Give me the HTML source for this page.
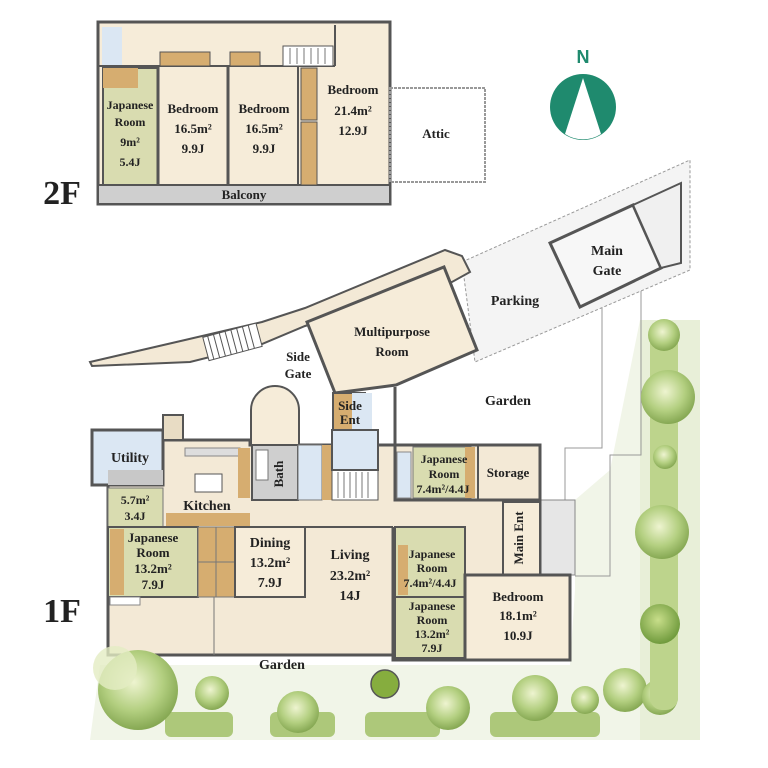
<!DOCTYPE html>
<html><head><meta charset="utf-8"><style>
html,body{margin:0;padding:0;background:#fff;}
svg{display:block;}
text{font-family:"Liberation Serif",serif;font-weight:bold;fill:#222;text-anchor:middle;}
</style></head><body>
<svg width="768" height="768" viewBox="0 0 768 768" xmlns="http://www.w3.org/2000/svg">
<defs>
<radialGradient id="tr" cx="45%" cy="40%" r="60%"><stop offset="0" stop-color="#eef4d0"/><stop offset="0.6" stop-color="#b3cf80"/><stop offset="1" stop-color="#86a853"/></radialGradient>
<radialGradient id="tr2" cx="45%" cy="40%" r="60%"><stop offset="0" stop-color="#c8de8a"/><stop offset="1" stop-color="#6f9a3c"/></radialGradient>
</defs>
<!-- ground bands -->
<polygon points="575,500 610,470 640,320 700,320 700,740 90,740 100,665 570,665 575,590" fill="#f1f5e8"/>
<rect x="640" y="320" width="60" height="420" fill="#e8efd8"/>
<!-- driveway lines -->
<polyline points="602,300 602,448 565,448 565,500" fill="none" stroke="#999" stroke-width="1"/>
<polyline points="641,282 641,455 610,455 610,576 575,576" fill="none" stroke="#999" stroke-width="1"/>
<rect x="540" y="500" width="35" height="75" fill="#e6e6e6" stroke="#888"/>
<!-- parking band -->
<polygon points="462,262 690,160 690,270 475,362" fill="#f4f4f4" stroke="#999" stroke-dasharray="3,2"/>
<polygon points="550,243 633,205 661,268 580,307" fill="#f7f7f7" stroke="#555" stroke-width="3"/>
<polygon points="633,205 681,183 681,263 661,268" fill="#f0f0f0" stroke="#555" stroke-width="2"/>
<text x="607" y="255" font-size="14">Main</text>
<text x="607" y="275" font-size="14">Gate</text>
<text x="515" y="305" font-size="14">Parking</text>
<!-- walkway -->
<polygon points="90,362 185,340 262,322 305,308 445,250 462,256 470,272 452,282 305,326 262,344 190,362 92,366" fill="#f3e9d6" stroke="#555" stroke-width="2"/>
<rect x="205" y="330" width="55" height="24" fill="#fff" stroke="#555" transform="rotate(-15 232 342)"/>
<g stroke="#555" stroke-width="1" transform="rotate(-15 232 342)">
<line x1="210" y1="330" x2="210" y2="354"/><line x1="216" y1="330" x2="216" y2="354"/><line x1="222" y1="330" x2="222" y2="354"/><line x1="228" y1="330" x2="228" y2="354"/><line x1="234" y1="330" x2="234" y2="354"/><line x1="240" y1="330" x2="240" y2="354"/><line x1="246" y1="330" x2="246" y2="354"/><line x1="252" y1="330" x2="252" y2="354"/></g>
<!-- multipurpose -->
<polygon points="307,322 444,267 477,350 396,385 335,393" fill="#f6ecd9" stroke="#555" stroke-width="3"/>
<text x="392" y="336" font-size="13">Multipurpose</text>
<text x="392" y="356" font-size="13">Room</text>
<text x="298" y="361" font-size="13">Side</text>
<text x="298" y="378" font-size="13">Gate</text>
<text x="508" y="405" font-size="14">Garden</text>
<!-- 1F main -->
<polygon points="108,485 163,485 163,440 250,440 250,445 395,445 395,500 540,500 540,575 570,575 570,660 393,660 393,655 108,655" fill="#f3e9d6" stroke="#555" stroke-width="3"/>
<rect x="92" y="430" width="71" height="55" fill="#dbe7f3" stroke="#555" stroke-width="3"/>
<rect x="108" y="470" width="55" height="15" fill="#c8c8c8"/>
<text x="130" y="462" font-size="14">Utility</text>
<rect x="163" y="415" width="20" height="25" fill="#e8dcc4" stroke="#555" stroke-width="2"/>
<rect x="108" y="488" width="55" height="39" fill="#d9dcb0" stroke="#777"/>
<text x="135" y="504" font-size="12">5.7m²</text>
<text x="135" y="520" font-size="12">3.4J</text>
<rect x="185" y="448" width="55" height="8" fill="#ddd" stroke="#888"/>
<rect x="195" y="474" width="27" height="18" fill="#fff" stroke="#555"/>
<rect x="238" y="448" width="12" height="50" fill="#d6ad70"/>
<rect x="166" y="513" width="84" height="13" fill="#d6ad70"/>
<text x="207" y="510" font-size="14">Kitchen</text>
<path d="M251,445 L251,410 A24,24 0 0 1 299,410 L299,445 Z" fill="#f6ecd9" stroke="#555" stroke-width="2"/>
<rect x="252" y="445" width="46" height="55" fill="#cfcfcf" stroke="#555" stroke-width="2"/>
<rect x="256" y="450" width="12" height="30" fill="#fff" stroke="#777"/>
<text x="283" y="474" font-size="13" transform="rotate(-90 283 474)">Bath</text>
<rect x="298" y="445" width="24" height="55" fill="#dbe7f3" stroke="#777"/>
<rect x="322" y="445" width="10" height="55" fill="#d6ad70"/>
<rect x="332" y="470" width="46" height="30" fill="#fff" stroke="#555"/>
<g stroke="#777"><line x1="338" y1="472" x2="338" y2="498"/><line x1="344" y1="472" x2="344" y2="498"/><line x1="350" y1="472" x2="350" y2="498"/><line x1="356" y1="472" x2="356" y2="498"/><line x1="362" y1="472" x2="362" y2="498"/><line x1="368" y1="472" x2="368" y2="498"/></g>
<rect x="333" y="393" width="32" height="37" fill="#d6ad70" stroke="#555" stroke-width="2"/>
<rect x="352" y="393" width="20" height="37" fill="#dbe7f3"/>
<rect x="332" y="430" width="46" height="40" fill="#dbe7f3" stroke="#555" stroke-width="2"/>
<text x="350" y="410" font-size="13">Side</text>
<text x="350" y="424" font-size="13">Ent</text>
<line x1="395" y1="387" x2="395" y2="445" stroke="#555" stroke-width="3"/>
<!-- right rooms -->
<rect x="395" y="445" width="145" height="55" fill="#f3e9d6" stroke="#555" stroke-width="3"/>
<rect x="397" y="452" width="14" height="46" fill="#dbe7f3" stroke="#888"/>
<rect x="413" y="447" width="58" height="51" fill="#d9dcb0" stroke="#777"/>
<rect x="465" y="447" width="10" height="51" fill="#d6ad70"/>
<line x1="478" y1="445" x2="478" y2="500" stroke="#555" stroke-width="2"/>
<text x="444" y="463" font-size="12">Japanese</text>
<text x="444" y="478" font-size="12">Room</text>
<text x="443" y="493" font-size="12">7.4m²/4.4J</text>
<text x="508" y="477" font-size="13">Storage</text>
<rect x="503" y="502" width="37" height="73" fill="#f6ecd9" stroke="#555" stroke-width="2"/>
<text x="523" y="538" font-size="13" transform="rotate(-90 523 538)">Main Ent</text>
<rect x="395" y="527" width="70" height="70" fill="#d9dcb0" stroke="#555" stroke-width="2"/>
<rect x="398" y="545" width="10" height="50" fill="#d6ad70"/>
<text x="432" y="558" font-size="12">Japanese</text>
<text x="432" y="572" font-size="12">Room</text>
<text x="430" y="587" font-size="12">7.4m²/4.4J</text>
<rect x="395" y="597" width="70" height="61" fill="#d9dcb0" stroke="#555" stroke-width="2"/>
<text x="432" y="610" font-size="12">Japanese</text>
<text x="432" y="624" font-size="12">Room</text>
<text x="432" y="638" font-size="12">13.2m²</text>
<text x="432" y="652" font-size="12">7.9J</text>
<rect x="465" y="575" width="105" height="85" fill="#f6ecd9" stroke="#555" stroke-width="3"/>
<text x="518" y="601" font-size="13">Bedroom</text>
<text x="518" y="620" font-size="13">18.1m²</text>
<text x="518" y="640" font-size="13">10.9J</text>
<!-- left rooms -->
<rect x="108" y="527" width="90" height="70" fill="#d9dcb0" stroke="#555" stroke-width="2"/>
<rect x="110" y="529" width="14" height="66" fill="#d6ad70"/>
<rect x="110" y="597" width="30" height="8" fill="#fff" stroke="#888"/>
<rect x="198" y="527" width="37" height="70" fill="#d6ad70" stroke="#777"/>
<line x1="216" y1="527" x2="216" y2="597" stroke="#777"/>
<line x1="198" y1="562" x2="235" y2="562" stroke="#777"/>
<text x="153" y="542" font-size="13">Japanese</text>
<text x="153" y="557" font-size="13">Room</text>
<text x="153" y="573" font-size="13">13.2m²</text>
<text x="153" y="589" font-size="13">7.9J</text>
<rect x="235" y="527" width="70" height="70" fill="#f6ecd9" stroke="#555" stroke-width="2"/>
<text x="270" y="547" font-size="14">Dining</text>
<text x="270" y="567" font-size="14">13.2m²</text>
<text x="270" y="587" font-size="14">7.9J</text>
<line x1="305" y1="527" x2="393" y2="527" stroke="#555" stroke-width="2"/>
<line x1="393" y1="527" x2="393" y2="660" stroke="#555" stroke-width="3"/>
<line x1="214" y1="597" x2="214" y2="655" stroke="#777"/>
<text x="350" y="559" font-size="14">Living</text>
<text x="350" y="580" font-size="14">23.2m²</text>
<text x="350" y="600" font-size="14">14J</text>
<!-- labels -->
<text x="282" y="669" font-size="14">Garden</text>
<text x="62" y="622" font-size="34">1F</text>
<!-- trees bottom -->
<rect x="165" y="712" width="68" height="25" rx="6" fill="#adc87a"/>
<rect x="270" y="712" width="65" height="25" rx="6" fill="#adc87a"/>
<rect x="365" y="712" width="75" height="25" rx="6" fill="#adc87a"/>
<rect x="490" y="712" width="110" height="25" rx="6" fill="#adc87a"/>
<circle cx="138" cy="690" r="40" fill="url(#tr)"/>
<circle cx="115" cy="668" r="22" fill="#e3ecc3" opacity="0.8"/>
<circle cx="212" cy="693" r="17" fill="url(#tr)"/>
<circle cx="298" cy="712" r="21" fill="url(#tr)"/>
<circle cx="385" cy="684" r="14" fill="#86ad3e" stroke="#555" stroke-width="1.5"/>
<circle cx="448" cy="708" r="22" fill="url(#tr)"/>
<circle cx="535" cy="698" r="23" fill="url(#tr)"/>
<circle cx="585" cy="700" r="14" fill="url(#tr)"/>
<circle cx="625" cy="690" r="22" fill="url(#tr)"/>
<circle cx="660" cy="697" r="18" fill="url(#tr)"/>
<!-- trees right -->
<rect x="650" y="320" width="28" height="390" rx="12" fill="#bdd48c"/>
<circle cx="664" cy="335" r="16" fill="url(#tr)"/>
<circle cx="668" cy="397" r="27" fill="url(#tr)"/>
<circle cx="665" cy="457" r="12" fill="url(#tr)"/>
<circle cx="662" cy="532" r="27" fill="url(#tr)"/>
<circle cx="660" cy="624" r="20" fill="url(#tr2)"/>
<!-- 2F -->
<rect x="98" y="22" width="292" height="182" fill="#f6ecd9" stroke="#555" stroke-width="3"/>
<rect x="98" y="185" width="292" height="19" fill="#cfcfcf" stroke="#555" stroke-width="2"/>
<text x="244" y="199" font-size="13">Balcony</text>
<rect x="102" y="27" width="20" height="38" fill="#dbe7f3"/>
<rect x="103" y="68" width="55" height="117" fill="#d9dcb0" stroke="#555" stroke-width="2"/>
<rect x="103" y="68" width="35" height="20" fill="#d6ad70"/>
<line x1="158" y1="65" x2="158" y2="185" stroke="#555" stroke-width="3"/>
<line x1="228" y1="65" x2="228" y2="185" stroke="#555" stroke-width="3"/>
<line x1="298" y1="65" x2="298" y2="185" stroke="#555" stroke-width="2"/>
<line x1="98" y1="66" x2="335" y2="66" stroke="#555" stroke-width="2"/>
<line x1="335" y1="25" x2="335" y2="66" stroke="#555" stroke-width="2"/>
<rect x="160" y="52" width="50" height="14" fill="#d6ad70" stroke="#555"/>
<rect x="230" y="52" width="30" height="14" fill="#d6ad70" stroke="#555"/>
<rect x="283" y="46" width="50" height="20" fill="#fff" stroke="#555"/>
<g stroke="#777"><line x1="290" y1="48" x2="290" y2="64"/><line x1="297" y1="48" x2="297" y2="64"/><line x1="304" y1="48" x2="304" y2="64"/><line x1="311" y1="48" x2="311" y2="64"/><line x1="318" y1="48" x2="318" y2="64"/><line x1="325" y1="48" x2="325" y2="64"/></g>
<rect x="301" y="68" width="16" height="52" fill="#d6ad70" stroke="#555"/>
<rect x="301" y="122" width="16" height="63" fill="#d6ad70" stroke="#555"/>
<text x="130" y="109" font-size="12">Japanese</text>
<text x="130" y="126" font-size="12">Room</text>
<text x="130" y="146" font-size="12">9m²</text>
<text x="130" y="166" font-size="12">5.4J</text>
<text x="193" y="113" font-size="13">Bedroom</text>
<text x="193" y="133" font-size="13">16.5m²</text>
<text x="193" y="153" font-size="13">9.9J</text>
<text x="264" y="113" font-size="13">Bedroom</text>
<text x="264" y="133" font-size="13">16.5m²</text>
<text x="264" y="153" font-size="13">9.9J</text>
<text x="353" y="94" font-size="13">Bedroom</text>
<text x="353" y="115" font-size="13">21.4m²</text>
<text x="353" y="135" font-size="13">12.9J</text>
<rect x="390" y="88" width="95" height="94" fill="none" stroke="#999" stroke-width="2" stroke-dasharray="3,1"/>
<text x="436" y="138" font-size="13">Attic</text>
<text x="62" y="204" font-size="34">2F</text>
<!-- compass -->
<text x="583" y="63" font-size="18" style="font-family:'Liberation Sans',sans-serif;fill:#1f8a6e">N</text>
<circle cx="583" cy="107" r="33" fill="#1f8a6e"/>
<path d="M583,78 L601,134 A33,33 0 0 1 565,134 Z" fill="#fff"/>
</svg>
</body></html>
